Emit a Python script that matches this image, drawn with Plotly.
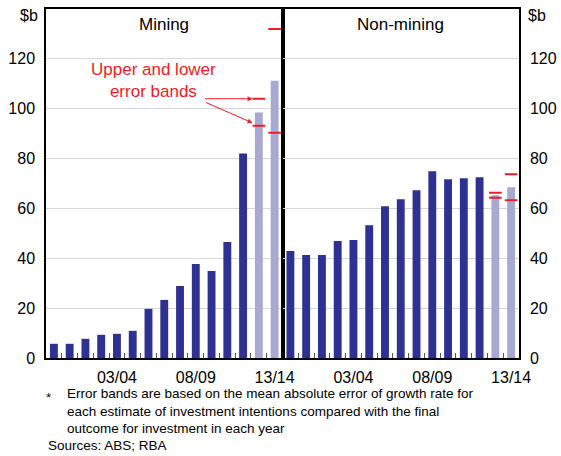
import plotly.graph_objects as go
from plotly.subplots import make_subplots

# Financial years 99/00 .. 13/14
years = ['99/00', '00/01', '01/02', '02/03', '03/04', '04/05', '05/06', '06/07',
         '07/08', '08/09', '09/10', '10/11', '11/12', '12/13', '13/14']
tick_years = ['03/04', '08/09', '13/14']

# $b, actuals then intentions (last two years are estimates)
mining = [5.7, 5.7, 7.7, 9.3, 9.7, 10.9, 19.7, 23.3, 28.9, 37.7, 34.9, 46.5, 82.0, 98.5, 111.2]
non_mining = [42.9, 41.3, 41.3, 46.9, 47.3, 53.3, 60.9, 63.7, 67.3, 74.9, 71.7, 72.1, 72.5, 65.3, 68.5]
n_estimates = 2

# error bands for the estimate years
est_years = ['12/13', '13/14']
mining_upper = [104.0, 132.0]
mining_lower = [93.2, 90.4]
non_mining_upper = [66.3, 73.7]
non_mining_lower = [64.3, 63.3]

y_ticks = [0, 20, 40, 60, 80, 100, 120]

dark = '#2e3192'
light = '#a8a8d0'
red = '#ee1c25'
font = 'Arial, Liberation Sans, sans-serif'

idx = list(range(len(years)))
est_idx = [years.index(y) for y in est_years]
colors = [dark] * (len(years) - n_estimates) + [light] * n_estimates

fig = make_subplots(rows=1, cols=2, horizontal_spacing=0)

panels = [(1, mining, mining_upper, mining_lower),
          (2, non_mining, non_mining_upper, non_mining_lower)]
for col, vals, up, lo in panels:
    fig.add_trace(go.Bar(x=idx, y=vals, marker_color=colors, marker_line_width=0,
                         showlegend=False), row=1, col=col)
    fig.add_trace(go.Scatter(x=est_idx + est_idx, y=up + lo, mode='markers',
                             marker=dict(symbol='line-ew', size=9,
                                         line=dict(color=red, width=2)),
                             showlegend=False), row=1, col=col)

xa = dict(range=[-0.5, len(years) - 0.5], automargin=False,
          tickvals=[years.index(y) for y in tick_years], ticktext=tick_years,
          ticks='', ticklabelstandoff=4,
          minor=dict(tickvals=[i + 0.5 for i in idx[:-1]], ticks='inside',
                     ticklen=5, tickcolor='#555555', tickwidth=1),
          showline=True, linecolor='black', linewidth=1.5, mirror=True,
          showgrid=False, zeroline=False,
          tickfont=dict(size=16, color='black', family=font))
fig.update_xaxes(**xa)
fig.update_xaxes(domain=[0, 0.5], row=1, col=1)
fig.update_xaxes(domain=[0.5, 1], row=1, col=2)

ya = dict(range=[0, 140], tickvals=y_ticks, ticks='', automargin=False,
          showline=True, linecolor='black', linewidth=1.5, mirror=True,
          showgrid=True, gridcolor='#d6d6d6', gridwidth=1, zeroline=False,
          ticklabelstandoff=6,
          tickfont=dict(size=16, color='black', family=font))
fig.update_yaxes(**ya)
fig.update_yaxes(side='left', row=1, col=1)
fig.update_yaxes(side='right', row=1, col=2)

# footnotes etc. placed in pixels, converted to paper coords
L, R, T, B = 46, 42, 9, 98
W, H = 561 - L - R, 456 - T - B

def px(x):
    return (x - L) / W

def py(y):
    return (456 - B - y) / H

# unit labels
fig.add_annotation(text='$b', x=px(40), y=py(16), xref='paper', yref='paper',
                   xanchor='right', yanchor='middle', showarrow=False,
                   font=dict(size=16, color='black', family=font))
fig.add_annotation(text='$b', x=px(526), y=py(16), xref='paper', yref='paper',
                   xanchor='left', yanchor='middle', showarrow=False,
                   font=dict(size=16, color='black', family=font))

# panel titles
for ref, name in [('x', 'Mining'), ('x2', 'Non-mining')]:
    fig.add_annotation(text=name, xref=ref + ' domain', yref='paper', x=0.5, y=1,
                       yanchor='top', yshift=-4, showarrow=False,
                       font=dict(size=17, color='black', family=font))

# error band callout
fig.add_annotation(text='Upper and lower<br>error bands', x=6.3, y=111.5,
                   xref='x', yref='y', showarrow=False,
                   font=dict(size=17, color=red, family=font))
fig.add_annotation(text='', x=12.6, y=104, xref='x', yref='y', ax=-49, ay=0,
                   showarrow=True, arrowhead=2, arrowsize=1, arrowwidth=1,
                   arrowcolor=red)
fig.add_annotation(text='', x=12.6, y=94.3, xref='x', yref='y', ax=-48, ay=-21,
                   showarrow=True, arrowhead=2, arrowsize=1, arrowwidth=1,
                   arrowcolor=red)

foot = dict(size=13.5, color='black', family=font)
fig.add_annotation(text='*', x=px(44), y=py(388), xref='paper', yref='paper',
                   xanchor='left', yanchor='top', showarrow=False, font=foot)
fig.add_annotation(text='Error bands are based on the mean absolute error of growth rate for<br>'
                        'each estimate of investment intentions compared with the final<br>'
                        'outcome for investment in each year',
                   x=px(67), y=py(386), xref='paper', yref='paper', xanchor='left',
                   yanchor='top', align='left', showarrow=False, borderpad=0,
                   borderwidth=0, font=foot)
fig.add_annotation(text='Sources: ABS; RBA', x=px(48), y=py(438.3), xref='paper',
                   yref='paper', xanchor='left', yanchor='top', showarrow=False,
                   borderpad=0, borderwidth=0, font=foot)

fig.update_layout(width=561, height=456, margin=dict(l=L, r=R, t=T, b=B),
                  plot_bgcolor='white', paper_bgcolor='white', bargap=0.5,
                  font=dict(family=font, color='black'))

# page body has a default 8px margin; drop it so the figure fills the window
fig.write_html('out.html', config={'displayModeBar': False},
               post_script="document.body.style.margin='0';")
